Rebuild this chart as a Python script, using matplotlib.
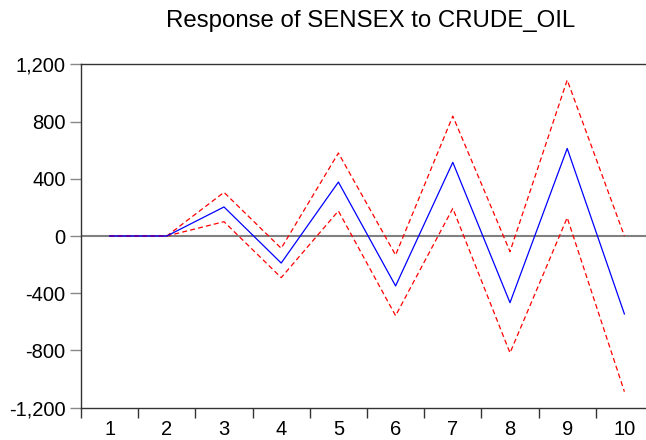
import numpy as np
import matplotlib.pyplot as plt

# Impulse response values
periods = [1, 2, 3, 4, 5, 6, 7, 8, 9, 10]
response = [0, 0, 203, -189, 377, -349, 515, -466, 612, -545]
upper_band = [0, 0, 305, -86, 580, -133, 838, -109, 1090, 0]
lower_band = [0, 0, 100, -291, 175, -557, 193, -817, 128, -1088]
y_ticks = [-1200, -800, -400, 0, 400, 800, 1200]

plt.rcParams['font.family'] = ['Liberation Sans', 'DejaVu Sans']

fig = plt.figure(figsize=(6.46, 4.40), dpi=100)
ax = fig.add_axes([81 / 646, 32.3 / 440, 572 / 646, 343.4 / 440])

# Zero line
ax.axhline(0, color='#808080', linewidth=1.5, zorder=1)

ax.plot(periods, upper_band, color='#ff0000', linestyle=(0, (4, 2.5)), linewidth=0.9, zorder=2)
ax.plot(periods, lower_band, color='#ff0000', linestyle=(0, (4, 2.5)), linewidth=0.9, zorder=2)
ax.plot(periods, response, color='#0000ff', linewidth=0.9, zorder=3)

ax.set_xlim(0.5, 10.5)
ax.set_ylim(-1200, 1200)

# Tick marks sit between periods, labels centred on periods
ax.set_xticks(np.arange(0.5, 11, 1.0))
ax.set_xticklabels([])
ax.set_xticks(periods, minor=True)
ax.set_xticklabels([str(p) for p in periods], minor=True)
ax.tick_params(axis='x', which='major', direction='out', length=7, width=1, color='#333333')
ax.tick_params(axis='x', which='minor', length=0, pad=9, labelsize=14.5)

ax.set_yticks(y_ticks)
ax.set_yticklabels([f'{v:,}' for v in y_ticks])
ax.tick_params(axis='y', direction='out', length=8, width=1, color='#888888', labelsize=14.5, pad=3)

for side in ['left', 'right', 'top', 'bottom']:
    ax.spines[side].set_color('#333333')
    ax.spines[side].set_linewidth(1)

fig.text(371 / 646, 1 - 21 / 440, 'Response of SENSEX to CRUDE_OIL',
         fontsize=17.3, ha='center', va='center')

plt.savefig('out.png', dpi=100)
